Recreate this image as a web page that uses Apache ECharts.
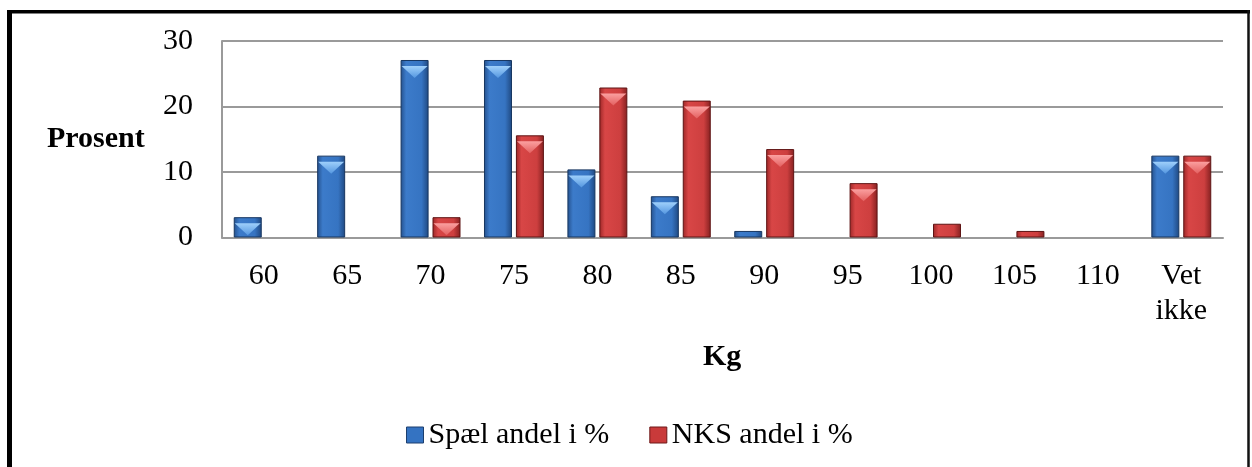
<!DOCTYPE html>
<html>
<head>
<meta charset="utf-8">
<script src="https://cdn.jsdelivr.net/npm/echarts@6/dist/echarts.min.js"></script>
<style>
html,body{margin:0;padding:0;background:#fff;}
#chart{width:1252px;height:467px;}
</style>
</head>
<body>
<div id="chart"></div>
<script>
const categories = ['60','65','70','75','80','85','90','95','100','105','110','Vet\nikke'];
const spael = [3.1, 12.5, 27.1, 27.1, 10.4, 6.3, 1.0, 0, 0, 0, 0, 12.5];
const nks = [0, 0, 3.1, 15.6, 22.9, 20.9, 13.5, 8.3, 2.1, 1.0, 0, 12.5];
const yTicks = [0, 10, 20, 30];
const seriesNames = ['Spæl andel i %', 'NKS andel i %'];

const FONT = 'Liberation Serif, Times New Roman, serif';
const chart = echarts.init(document.getElementById('chart'));

function hGrad(c0, c1, c2, c3) {
  return new echarts.graphic.LinearGradient(0, 0, 1, 0, [
    {offset: 0, color: c0}, {offset: 0.2, color: c1},
    {offset: 0.75, color: c2}, {offset: 1, color: c3}
  ]);
}
const blueFill = hGrad('#24508c', '#3c7bca', '#3674c2', '#1f4880');
const redFill = hGrad('#9c2727', '#d84646', '#cd3f3f', '#842020');
const blueHi = new echarts.graphic.LinearGradient(0, 0, 0, 1, [
  {offset: 0, color: '#9fd0fb'}, {offset: 1, color: '#5597e0'}]);
const redHi = new echarts.graphic.LinearGradient(0, 0, 0, 1, [
  {offset: 0, color: '#fba0a0'}, {offset: 1, color: '#e36060'}]);

const barData = arr => arr.map(v => v > 0 ? v : {value: v, itemStyle: {borderWidth: 0}});
const hiData = arr => arr.map(v => v >= 3 ? v : '-');
const BW = 28, GAP = '14%';

chart.setOption({
  animation: false,
  backgroundColor: '#ffffff',
  grid: {left: 222, right: 29, top: 41, bottom: 229.5},
  legend: {
    left: 401, top: 415,
    itemWidth: 17, itemHeight: 16, itemGap: 40,
    data: [
      {name: seriesNames[0], icon: 'rect', itemStyle: {color: '#3473c2', borderColor: '#1c3f6e', borderWidth: 1}},
      {name: seriesNames[1], icon: 'rect', itemStyle: {color: '#c93a3a', borderColor: '#6e1818', borderWidth: 1}}
    ],
    textStyle: {fontFamily: FONT, fontSize: 30, color: '#000', padding: [0, 0, 0, 0]}
  },
  xAxis: {
    type: 'category',
    data: categories,
    axisLine: {show: true, lineStyle: {color: '#9a9a9a', width: 2}},
    axisTick: {show: false},
    axisLabel: {fontFamily: FONT, fontSize: 30, lineHeight: 35, color: '#000', margin: 21, interval: 0}
  },
  yAxis: {
    type: 'value', min: yTicks[0], max: yTicks[yTicks.length - 1], interval: 10,
    axisLine: {show: true, lineStyle: {color: '#9a9a9a', width: 2}},
    axisTick: {show: false},
    splitLine: {show: true, lineStyle: {color: '#9a9a9a', width: 2}},
    axisLabel: {fontFamily: FONT, fontSize: 30, color: '#000', margin: 29}
  },
  graphic: [
    {type: 'text', left: 47, top: 124, style: {text: 'Prosent', font: 'bold 30px ' + FONT, fill: '#000'}},
    {type: 'text', left: 703, top: 342, style: {text: 'Kg', font: 'bold 30px ' + FONT, fill: '#000'}},
    {type: 'line', shape: {x1: 9.5, y1: 10, x2: 9.5, y2: 470}, style: {stroke: '#000', lineWidth: 5}},
    {type: 'line', shape: {x1: 7, y1: 11.7, x2: 1250, y2: 11.7}, style: {stroke: '#000', lineWidth: 3.5}},
    {type: 'line', shape: {x1: 1248.5, y1: 10, x2: 1248.5, y2: 470}, style: {stroke: '#111', lineWidth: 2.5}}
  ],
  series: [
    {
      name: seriesNames[0], type: 'bar', data: barData(spael), barWidth: BW, barGap: GAP,
      itemStyle: {color: blueFill, borderColor: '#173660', borderWidth: 1}
    },
    {
      name: seriesNames[1], type: 'bar', data: barData(nks), barWidth: BW, barGap: GAP,
      itemStyle: {color: redFill, borderColor: '#5e1414', borderWidth: 1}
    },
    {
      name: seriesNames[0] + ' hi', type: 'pictorialBar', data: hiData(spael),
      barWidth: BW, barGap: GAP, z: 5, legendHoverLink: false, silent: true,
      symbol: 'path://M0,0 L28,0 L14,12 Z', symbolSize: [26, 12],
      symbolPosition: 'end', symbolOffset: [0, '50%'],
      itemStyle: {color: blueHi}
    },
    {
      name: seriesNames[1] + ' hi', type: 'pictorialBar', data: hiData(nks),
      barWidth: BW, barGap: GAP, z: 5, legendHoverLink: false, silent: true,
      symbol: 'path://M0,0 L28,0 L14,12 Z', symbolSize: [26, 12],
      symbolPosition: 'end', symbolOffset: [0, '50%'],
      itemStyle: {color: redHi}
    }
  ]
});
</script>
</body>
</html>
